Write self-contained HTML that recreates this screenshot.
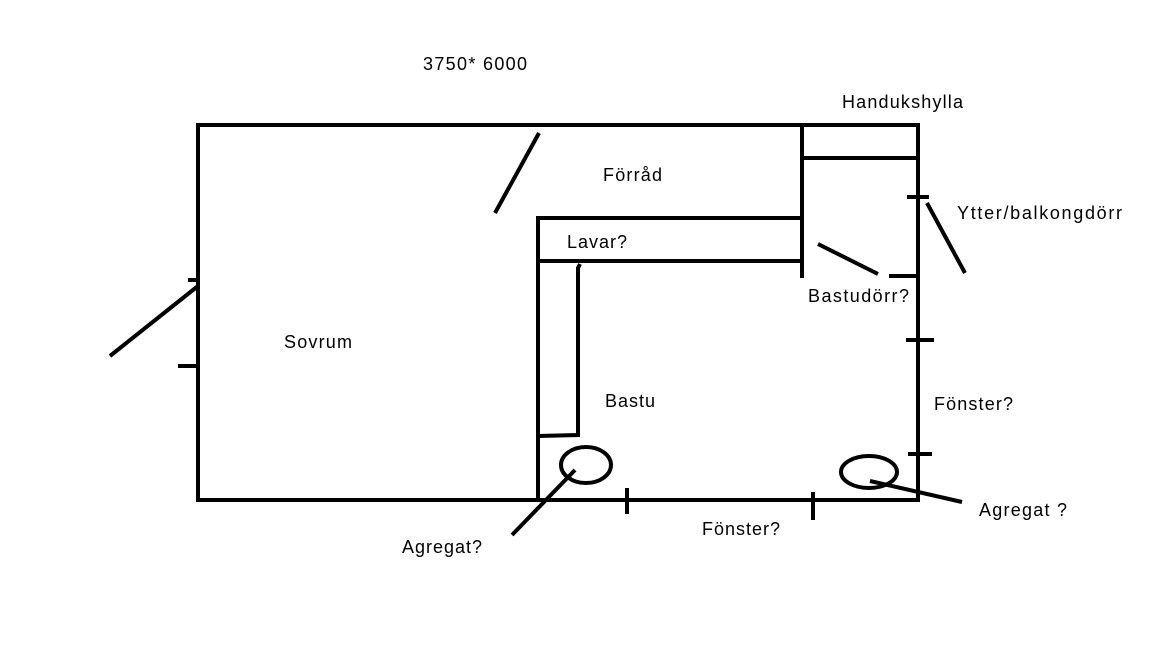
<!DOCTYPE html>
<html><head><style>html,body{margin:0;padding:0;background:#fff}svg{display:block}text{font-family:"Liberation Sans",sans-serif;font-size:18px;fill:#000}</style></head><body>
<svg width="1152" height="648" viewBox="0 0 1152 648" xmlns="http://www.w3.org/2000/svg">
<g stroke="#000" stroke-width="4" fill="none" stroke-linecap="butt">
<rect x="198" y="125" width="720" height="375"/>
<line x1="538" y1="216" x2="538" y2="500"/>
<line x1="536" y1="218" x2="804" y2="218"/>
<line x1="536" y1="261" x2="804" y2="261"/>
<line x1="802" y1="125" x2="802" y2="278"/>
<line x1="802" y1="158" x2="918" y2="158"/>
<polyline points="580,264 578,268 578,435 538,436"/>
<line x1="539" y1="133" x2="495" y2="213"/>
<line x1="110" y1="356" x2="198" y2="286"/>
<line x1="188" y1="280" x2="200" y2="280"/>
<line x1="178" y1="366" x2="200" y2="366"/>
<line x1="907" y1="197" x2="929" y2="197"/>
<line x1="889" y1="276" x2="918" y2="276"/>
<line x1="906" y1="340" x2="934" y2="340"/>
<line x1="908" y1="454" x2="932" y2="454"/>
<line x1="927" y1="203" x2="965" y2="273"/>
<line x1="818" y1="244" x2="878" y2="274"/>
<line x1="627" y1="488" x2="627" y2="514"/>
<line x1="813" y1="492" x2="813" y2="520"/>
<ellipse cx="586" cy="465" rx="25" ry="18"/>
<ellipse cx="869" cy="472" rx="28" ry="16"/>
<line x1="575" y1="470" x2="512" y2="535"/>
<line x1="870" y1="481" x2="962" y2="502"/>
</g>
<text x="423" y="70" textLength="104">3750* 6000</text>
<text x="842" y="108" textLength="121">Handukshylla</text>
<text x="603" y="181" textLength="59">Förråd</text>
<text x="957" y="219" textLength="165">Ytter/balkongdörr</text>
<text x="567" y="248" textLength="60">Lavar?</text>
<text x="808" y="302" textLength="101">Bastudörr?</text>
<text x="284" y="348" textLength="68">Sovrum</text>
<text x="605" y="407" textLength="50">Bastu</text>
<text x="934" y="410" textLength="79">Fönster?</text>
<text x="979" y="516" textLength="88">Agregat ?</text>
<text x="702" y="535" textLength="78">Fönster?</text>
<text x="402" y="553" textLength="80">Agregat?</text>
</svg>
</body></html>
